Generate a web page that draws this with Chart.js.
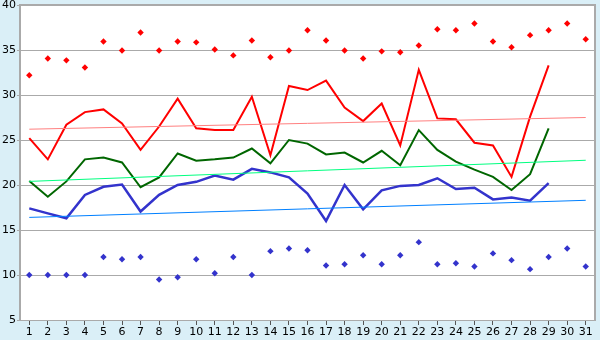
<!DOCTYPE html>
<html>
<head>
<meta charset="utf-8">
<script src="https://cdn.jsdelivr.net/npm/chart.js@4/dist/chart.umd.min.js"></script>
<style>
html,body{margin:0;padding:0;background:#daeff7;}
#wrap{width:600px;height:340px;}
</style>
</head>
<body>
<div id="wrap"><canvas id="c" width="600" height="340"></canvas></div>
<script>
const days = Array.from({length:31},(_,i)=>String(i+1));
const maxTemp = [25.2,22.85,26.7,28.1,28.4,26.85,23.9,26.5,29.6,26.3,26.1,26.1,29.8,23.3,31.0,30.55,31.6,28.6,27.1,29.05,24.4,32.8,27.4,27.3,24.7,24.4,20.9,27.6,33.3,null,null];
const avgTemp = [20.45,18.7,20.4,22.85,23.05,22.5,19.75,20.85,23.5,22.7,22.85,23.05,24.05,22.4,25.0,24.6,23.4,23.6,22.5,23.8,22.2,26.1,23.9,22.6,21.7,20.9,19.45,21.2,26.3,null,null];
const minTemp = [17.4,16.85,16.3,18.9,19.8,20.05,17.05,18.9,20.0,20.35,21.05,20.6,21.8,21.4,20.85,19.05,16.0,20.0,17.3,19.4,19.9,20.0,20.75,19.55,19.7,18.4,18.6,18.25,20.2,null,null];
const recordHigh = [32.2,34.05,33.85,33.05,35.95,34.95,36.95,34.95,35.95,35.85,35.05,34.4,36.05,34.2,34.95,37.2,36.05,34.95,34.05,34.85,34.75,35.5,37.3,37.2,37.95,35.95,35.3,36.65,37.2,37.95,36.2];
const recordLow = [10,10,10,10,12,11.75,12,9.5,9.75,11.75,10.2,12,10,12.65,12.95,12.75,11.05,11.2,12.2,11.2,12.2,13.65,11.2,11.3,10.95,12.4,11.65,10.65,12,12.95,10.95];
// trend lines read at day 1 and day 31
const trendMaxEnds = [26.2,27.5];
const trendAvgEnds = [20.4,22.75];
const trendMinEnds = [16.4,18.3];
const yTicks = [5,10,15,20,25,30,35,40];

function ends(e){const a=new Array(31).fill(null);a[0]=e[0];a[30]=e[1];return a;}

const bgPlugin = {
  id:'bg',
  beforeDraw(chart){
    const {ctx,chartArea:a}=chart;
    ctx.save();
    ctx.fillStyle='#daeff7';
    ctx.fillRect(0,0,chart.width,chart.height);
    ctx.fillStyle='#ffffff';
    ctx.fillRect(a.left,a.top,a.right-a.left,a.bottom-a.top);
    ctx.restore();
  },
  afterDatasetsDraw(chart){
    const {ctx,chartArea:a}=chart;
    ctx.save();
    ctx.strokeStyle='#aaaaaa';
    ctx.lineWidth=2;
    ctx.beginPath();
    ctx.moveTo(a.left,a.top);ctx.lineTo(a.right,a.top);ctx.lineTo(a.right,a.bottom);
    ctx.stroke();
    ctx.restore();
  }
};

const lineDs=(data,color,w)=>({type:'line',data,borderColor:color,backgroundColor:color,borderWidth:w,pointRadius:0,fill:false,tension:0,spanGaps:false});
const trendDs=(data,color)=>({type:'line',data,borderColor:color,borderWidth:1,pointRadius:0,fill:false,spanGaps:true});
const dotDs=(data,color)=>({type:'line',data,showLine:false,pointStyle:'rectRot',pointRadius:3.2,pointBackgroundColor:color,pointBorderColor:color,pointBorderWidth:0});

new Chart(document.getElementById('c'),{
  type:'line',
  data:{
    labels:days,
    datasets:[
      trendDs(ends(trendMaxEnds),'#ff8080'),
      trendDs(ends(trendAvgEnds),'#00ff80'),
      trendDs(ends(trendMinEnds),'#0080ff'),
      lineDs(maxTemp,'#ff0000',2),
      lineDs(avgTemp,'#006600',2),
      lineDs(minTemp,'#3333cc',2.5),
      dotDs(recordHigh,'#ff0000'),
      dotDs(recordLow,'#3333cc')
    ]
  },
  plugins:[bgPlugin],
  options:{
    responsive:false,
    animation:false,
    layout:{padding:{top:5,right:5,left:0,bottom:0}},
    plugins:{legend:{display:false},tooltip:{enabled:false}},
    scales:{
      x:{
        type:'category',
        offset:true,
        grid:{display:true,drawOnChartArea:false,offset:false,color:'#555555',tickLength:5,tickWidth:1},
        border:{display:true,color:'#aaaaaa',width:1},
        ticks:{color:'#000000',font:{family:'DejaVu Sans',size:11},padding:1,maxRotation:0,autoSkip:false},
        afterFit(s){s.height=20;s.paddingLeft=0;s.paddingRight=0;}
      },
      y:{
        min:5,max:40,
        afterBuildTicks(s){s.ticks=yTicks.map(v=>({value:v}));},
        grid:{color:'#aaaaaa',lineWidth:1,tickLength:3,drawTicks:true},
        border:{display:true,color:'#aaaaaa',width:2},
        ticks:{color:'#000000',font:{family:'DejaVu Sans',size:11},padding:1},
        afterFit(s){s.width=20;s.paddingTop=0;s.paddingBottom=0;}
      }
    }
  }
});
</script>
</body>
</html>
